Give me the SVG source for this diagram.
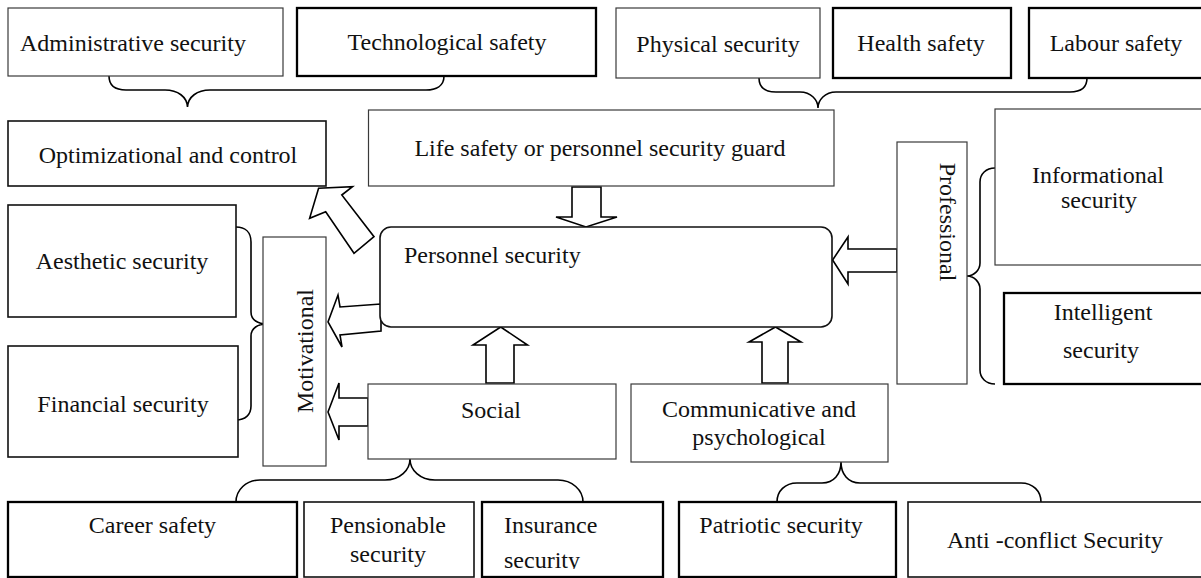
<svg xmlns="http://www.w3.org/2000/svg" width="1201" height="578" viewBox="0 0 1201 578">
<style>
rect{fill:#fff}
.thin{stroke:#3a3a3a;stroke-width:1.2}
.med{stroke:#111;stroke-width:1.6}
.thick{stroke:#000;stroke-width:2.3}
text{font-family:"Liberation Serif","Times New Roman",serif;font-size:24px;fill:#111}
.c{text-anchor:middle}
.brace{fill:none;stroke:#000;stroke-width:1.6}
.arrow{fill:#fff;stroke:#000;stroke-width:1.6;stroke-linejoin:miter}
</style>
<defs>
<clipPath id="insClip"><rect x="482" y="502" width="181" height="67"/></clipPath>
</defs>
<rect width="1201" height="578" fill="#fff"/>

<g id="connectors">
<path class="brace" d="M109,76 C109,86 116,90 126,90 L165,90 C178,90 187,97 187.5,107 C188,97 197,90 210,90 L426,90 C436,90 444,86 444,76"/>
<path class="brace" d="M759,78 C759,88 766,92 776,92 L800,92 C811,92 818,100 818,108 C818,100 825,92 836,92 L1070,92 C1080,92 1087,88 1087,78"/>
<path class="brace" d="M236,502 C236,490 246,480 260,480 L385,480 C400,480 410,470 410,459 C410,470 420,480 435,480 L558,480 C572,480 583,490 583,502"/>
<path class="brace" d="M777,502 C777,491 785,483 797,483 L822,483 C834,483 841,474 841,462 C841,474 848,483 860,483 L1021,483 C1033,483 1041,491 1041,502"/>
<path class="brace" d="M236,227 C245,227 251,232 251,242 L251,312 C251,320 258,324 267,324 C258,324 251,328 251,336 L251,406 C251,415 245,420 236,420"/>
<path class="brace" d="M995,168 C986,168 980,174 980,182 L980,263 C980,270 974,276 967,276 C974,276 980,282 980,289 L980,370 C980,378 986,384 995,384"/>
<polygon class="arrow" points="572,187 601,187 601,217 617,217 586,227 556,217 572,217"/>
<polygon class="arrow" points="486,383 514,383 514,345 527.5,345 500.7,327 473,345 486,345"/>
<polygon class="arrow" points="762,383 788,383 788,342 801,342 775.5,327 749,342 762,342"/>
<polygon class="arrow" points="897,249 848,249 848,237 832.6,260 848,284 848,272 897,272"/>
<polygon class="arrow" points="381,304 340,307 338,295 328,322 342,347 340,335 381,331"/>
<polygon class="arrow" points="368,398 339,398 339,383 328,412 339,440 339,426 368,426"/>
<polygon class="arrow" points="354,253.3 325.7,211.7 309.6,218.3 318.6,188.3 352.5,186.7 341.8,195 374,236.7"/>
</g>

<g id="administrative"><rect class="thin" x="8" y="8" width="275" height="68"/><text x="20" y="51">Administrative security</text></g>
<g id="technological"><rect class="thick" x="297" y="8" width="299" height="68"/><text class="c" x="447" y="50">Technological safety</text></g>
<g id="physical"><rect class="thin" x="616" y="8" width="204" height="70"/><text class="c" x="718" y="52">Physical security</text></g>
<g id="health"><rect class="thick" x="833" y="8" width="178" height="70"/><text class="c" x="921" y="51">Health safety</text></g>
<g id="labour"><rect class="thick" x="1029" y="8" width="180" height="70"/><text class="c" x="1116" y="51">Labour safety</text></g>

<g id="optimizational"><rect class="med" x="8" y="121" width="318" height="65"/><text class="c" x="168" y="163">Optimizational and control</text></g>
<g id="lifesafety"><rect class="thin" x="368.5" y="110" width="465.5" height="76"/><text class="c" x="600" y="156">Life safety or personnel security guard</text></g>

<g id="aesthetic"><rect class="med" x="8" y="205" width="228" height="112"/><text class="c" x="122" y="269">Aesthetic security</text></g>
<g id="financial"><rect class="med" x="8" y="346" width="230" height="111"/><text class="c" x="123" y="412">Financial security</text></g>
<g id="motivational"><rect class="thin" x="263" y="237" width="63" height="229"/><text class="c" transform="translate(313,351) rotate(-90)">Motivational</text></g>

<g id="personnel"><rect class="med" x="380" y="227" width="452" height="100" rx="11" ry="11"/><text x="404" y="263">Personnel security</text></g>

<g id="professional"><rect class="thin" x="897" y="142" width="70" height="242"/><text class="c" transform="translate(940,222) rotate(90)">Professional</text></g>
<g id="informational"><rect class="thin" x="995" y="109" width="210" height="156"/><text class="c" x="1098" y="183">Informational</text><text class="c" x="1099" y="208">security</text></g>
<g id="intelligent"><rect class="thick" x="1004" y="293" width="201" height="91"/><text class="c" x="1103" y="320">Intelligent</text><text class="c" x="1101" y="358">security</text></g>

<g id="social"><rect class="thin" x="368" y="384" width="248" height="75"/><text class="c" x="491" y="418">Social</text></g>
<g id="communicative"><rect class="thin" x="631" y="384" width="257" height="78"/><text class="c" x="759" y="417">Communicative and</text><text class="c" x="759" y="445">psychological</text></g>

<g id="career"><rect class="thick" x="8" y="502" width="289" height="75"/><text class="c" x="152.5" y="533">Career safety</text></g>
<g id="pensionable"><rect class="med" x="304" y="502" width="170" height="75"/><text class="c" x="388" y="533">Pensionable</text><text class="c" x="388" y="562">security</text></g>
<g id="insurance"><rect class="thick" x="482" y="502" width="181" height="75"/><text x="504" y="533">Insurance</text><text x="504" y="568" clip-path="url(#insClip)">security</text></g>
<g id="patriotic"><rect class="thick" x="679" y="502" width="217" height="75"/><text class="c" x="781" y="533">Patriotic security</text></g>
<g id="anticonflict"><rect class="med" x="908" y="502" width="297" height="75"/><text class="c" x="1055" y="548">Anti -conflict Security</text></g>
</svg>
